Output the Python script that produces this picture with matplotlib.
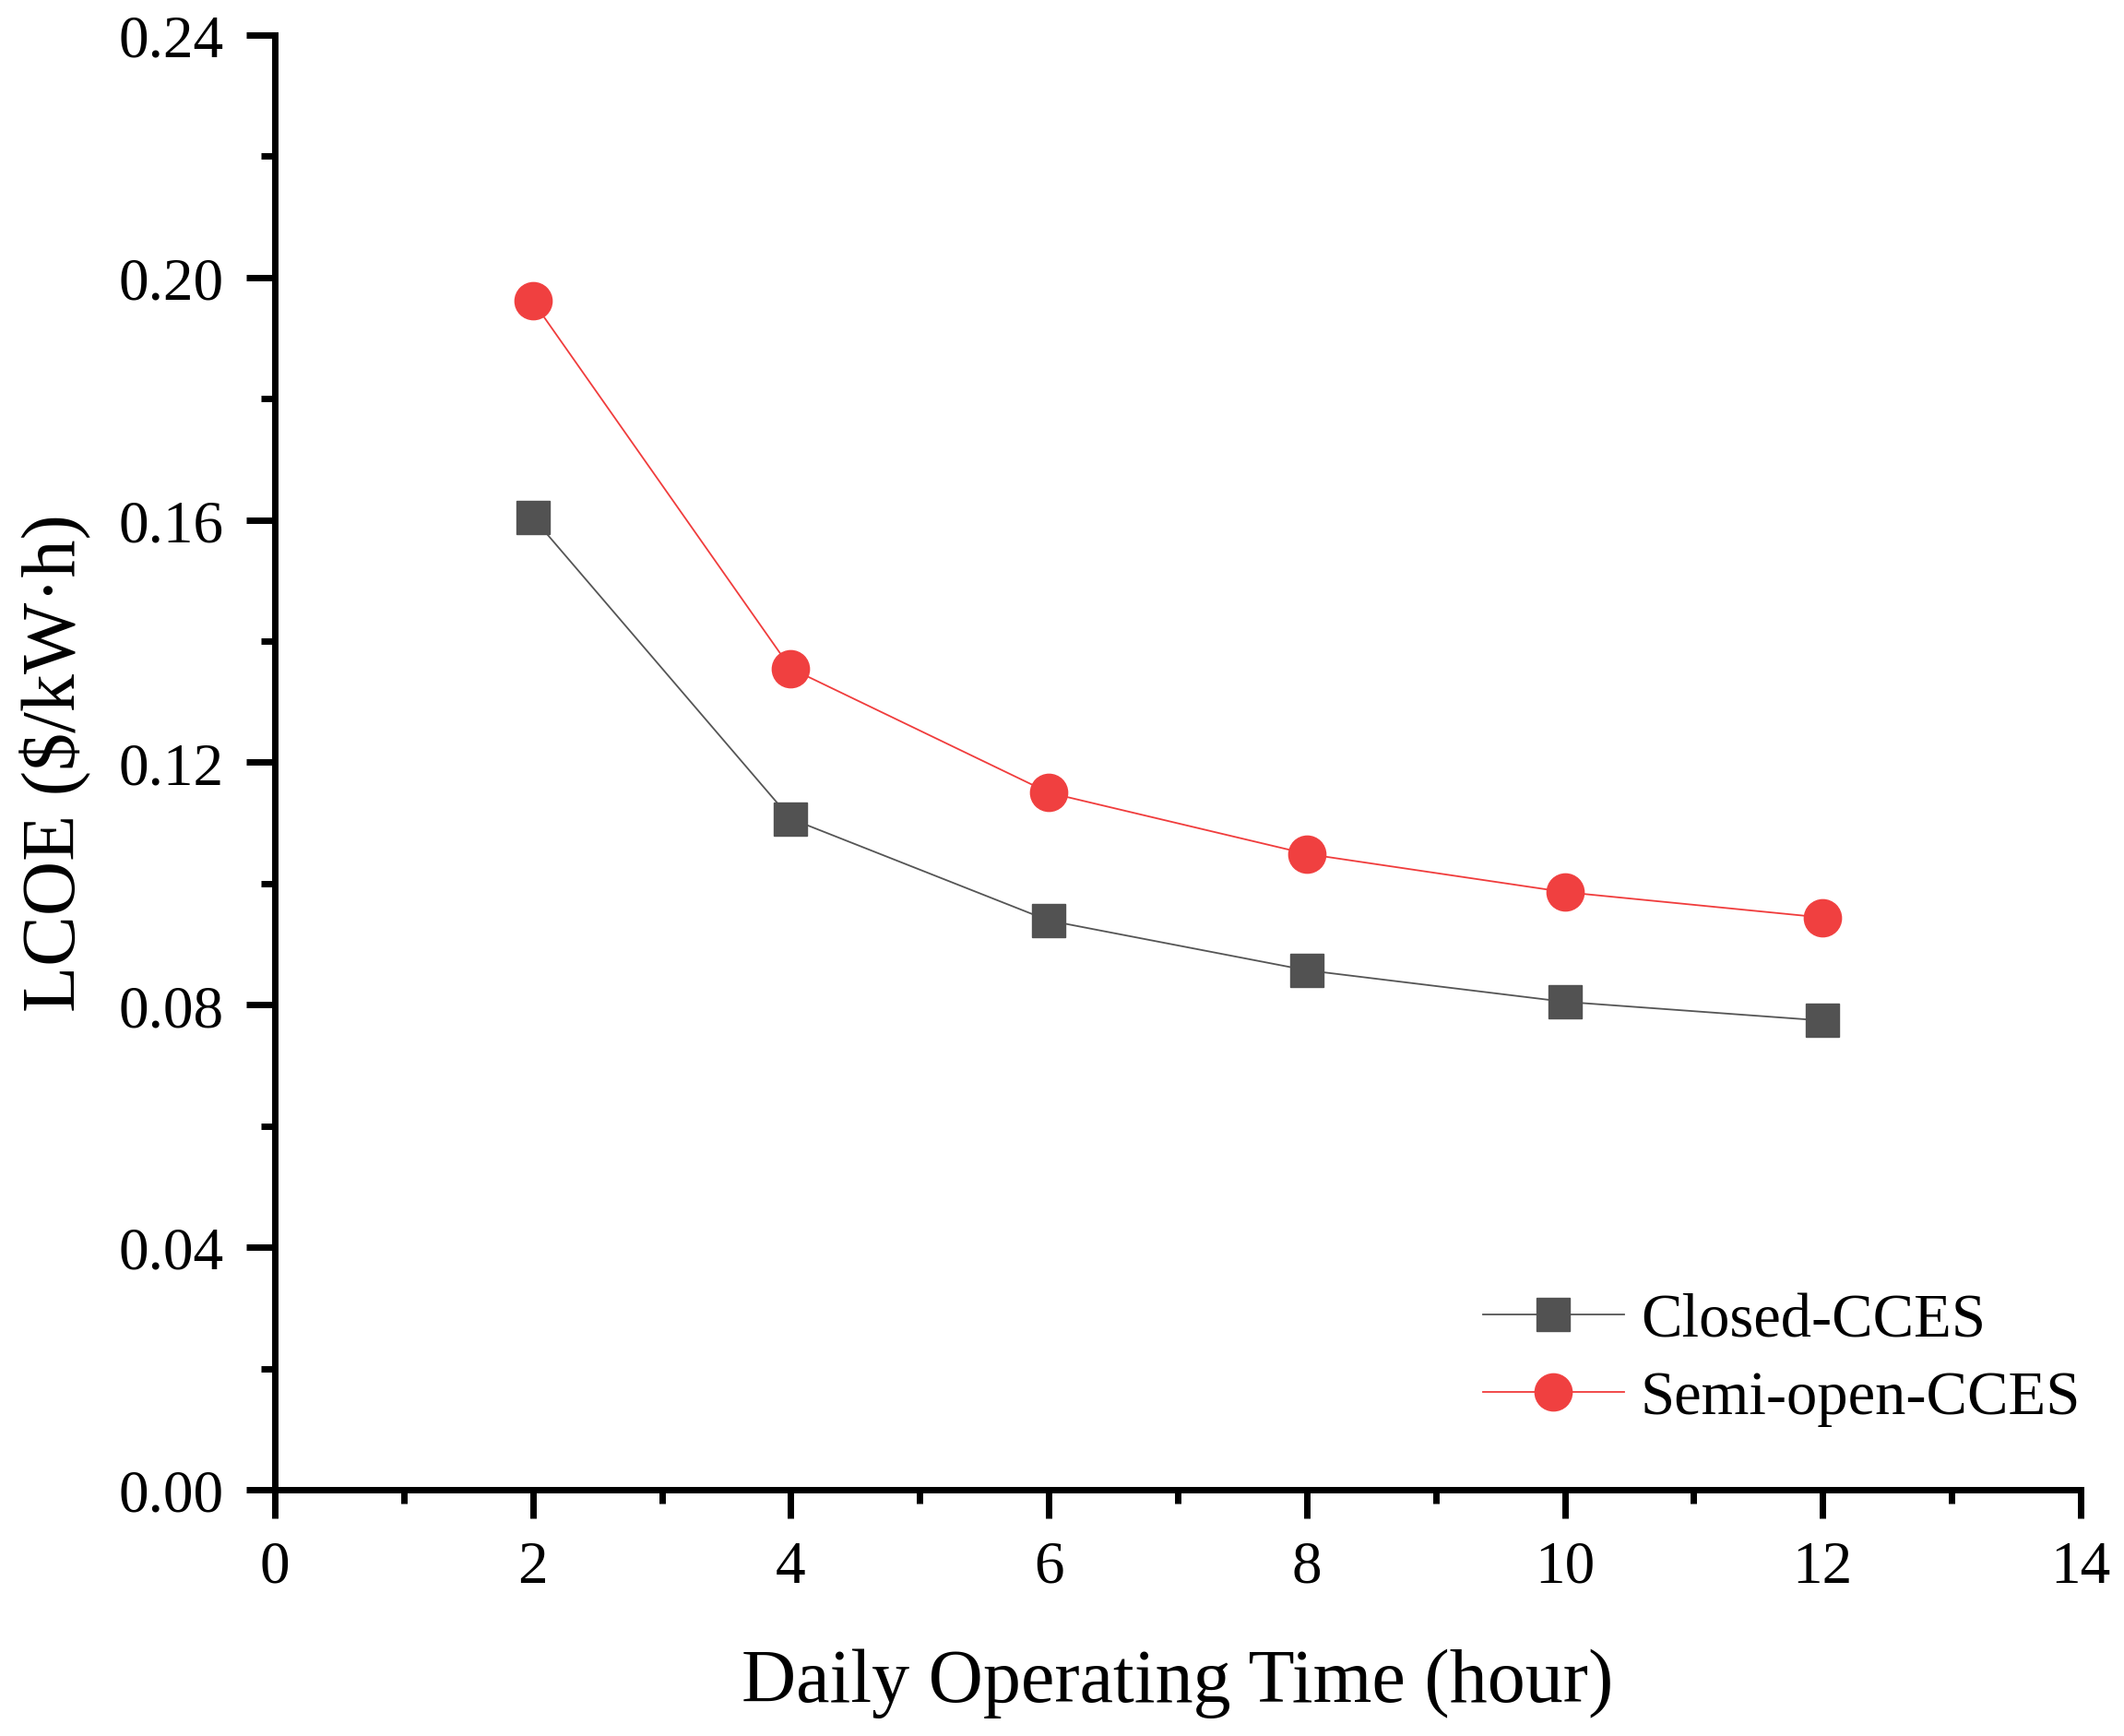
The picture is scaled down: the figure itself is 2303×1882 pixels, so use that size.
import matplotlib
matplotlib.use("Agg")
import matplotlib.pyplot as plt
from matplotlib.ticker import MultipleLocator, FormatStrFormatter

# data
hours = [2, 4, 6, 8, 10, 12]
closed_lcoe = [0.1604, 0.1107, 0.0939, 0.0857, 0.0805, 0.0774]
semi_open_lcoe = [0.1961, 0.1355, 0.1150, 0.1049, 0.0986, 0.0944]

plt.rcParams['font.family'] = ['Liberation Serif', 'DejaVu Serif']

fig = plt.figure(figsize=(23.03, 18.83), dpi=100)
ax = fig.add_axes([0.1294, 0.1418, 0.8502, 0.8375])

ax.plot(hours, closed_lcoe, color='#555555', lw=1.3, marker='s', ms=26.5,
        mfc='#525252', mec='#525252', label='Closed-CCES')
ax.plot(hours, semi_open_lcoe, color='#f03c3c', lw=1.3, marker='o', ms=29,
        mfc='#f04040', mec='#f04040', label='Semi-open-CCES')

ax.set_xlim(0, 14)
ax.set_ylim(0, 0.24)
ax.xaxis.set_major_locator(MultipleLocator(2))
ax.xaxis.set_minor_locator(MultipleLocator(1))
ax.yaxis.set_major_locator(MultipleLocator(0.04))
ax.yaxis.set_minor_locator(MultipleLocator(0.02))
ax.yaxis.set_major_formatter(FormatStrFormatter('%.2f'))

for s in ['top', 'right']:
    ax.spines[s].set_visible(False)
for s in ['left', 'bottom']:
    ax.spines[s].set_linewidth(5)

ax.tick_params(which='major', direction='out', length=22, width=5, labelsize=47)
ax.tick_params(which='minor', direction='out', length=11, width=5)
ax.tick_params(axis='x', which='major', pad=17)
ax.tick_params(axis='y', which='major', pad=18)

ax.set_xlabel('Daily Operating Time (hour)', fontsize=59, labelpad=42)
ax.set_ylabel('LCOE ($/kW·h)', fontsize=59, labelpad=21)

ax.legend(loc='lower right', frameon=False, fontsize=48, handlelength=2.3,
          borderaxespad=0, handletextpad=0.27, labelspacing=0.35,
          bbox_to_anchor=(1.0138, 0.0266))

fig.savefig('out.png', dpi=100)
